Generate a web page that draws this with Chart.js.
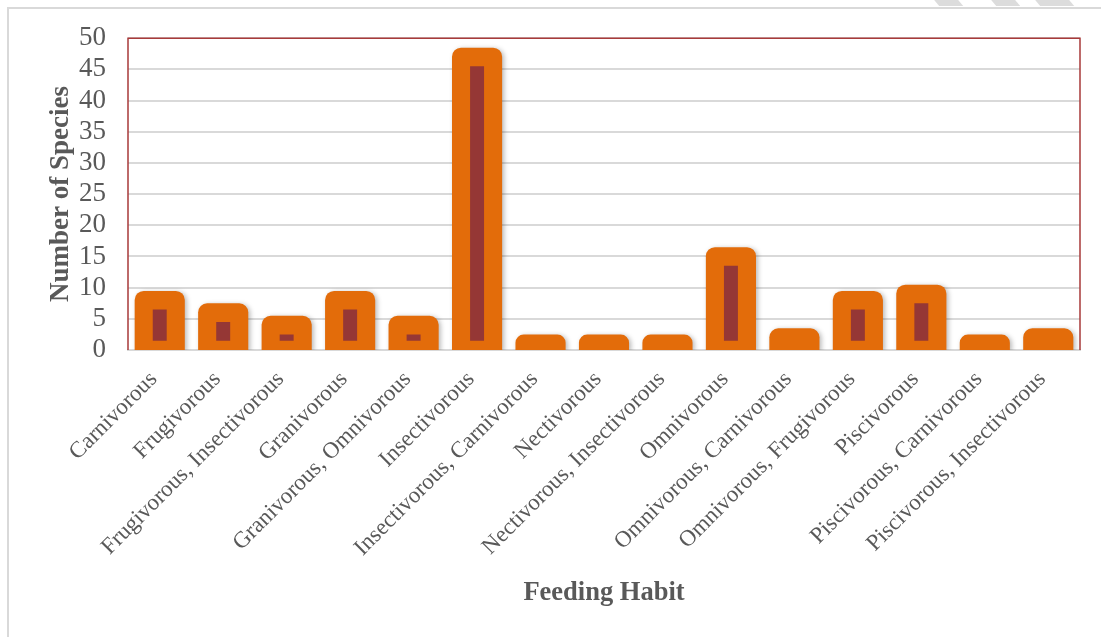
<!DOCTYPE html>
<html>
<head>
<meta charset="utf-8">
<script src="https://cdn.jsdelivr.net/npm/chart.js@4.4.1/dist/chart.umd.min.js"></script>
<style>
  html, body { margin: 0; padding: 0; background: #ffffff; }
  #wrap { position: relative; width: 1101px; height: 637px; overflow: hidden; }
  #frame { position: absolute; left: 7px; top: 7px; right: -10px; bottom: -10px;
           border-left: 2px solid #d9d9d9; border-top: 2px solid #d9d9d9; }
  .wm { position: absolute; top: -4px; height: 10px; background: #dcdcdc; transform: skewX(40deg); }
  canvas { position: absolute; left: 0; top: 0; }
</style>
</head>
<body>
<div id="wrap">
  <div id="frame"></div>
  <div class="wm" style="left:935px;width:24px;"></div>
  <div class="wm" style="left:992px;width:24px;"></div>
  <div class="wm" style="left:1036px;width:34px;"></div>
  <canvas id="c" width="1101" height="637"></canvas>
</div>
<script>
// ---- data ----
const categories = [
  "Carnivorous", "Frugivorous", "Frugivorous, Insectivorous", "Granivorous",
  "Granivorous, Omnivorous", "Insectivorous", "Insectivorous, Carnivorous",
  "Nectivorous", "Nectivorous, Insectivorous", "Omnivorous",
  "Omnivorous, Carnivorous", "Omnivorous, Frugivorous", "Piscivorous",
  "Piscivorous, Carnivorous", "Piscivorous, Insectivorous"
];
const speciesCounts = [9, 7, 5, 9, 5, 48, 2, 2, 2, 16, 3, 9, 10, 2, 3];
// inner (bevel-face) darker bars: low / high as seen in picture
const innerLow  = [1.5, 1.5, 1.5, 1.5, 1.5, 1.5, null, null, null, 1.5, null, 1.5, 1.5, null, null];
const innerHigh = [6.5, 4.5, 2.5, 6.5, 2.5, 45.5, null, null, null, 13.5, null, 6.5, 7.5, null, null];
const yTicks = [0, 5, 10, 15, 20, 25, 30, 35, 40, 45, 50];

const FONT = "'Times New Roman', 'Liberation Serif', serif";
const TXT = "#595959";

const innerData = innerLow.map((lo, i) => (lo === null ? null : [lo, innerHigh[i]]));

const PAD = { left: 45, right: 21, top: 37, bottom: 28 };
const PLOT_LEFT = 128, PLOT_BOTTOM = 350;

const bevelPlugin = {
  id: 'bevel',
  afterDatasetsUpdate(chart) {
    const meta = chart.getDatasetMeta(0);
    meta.data.forEach(el => { el.y -= 3; el.base += 2; });
  },
  beforeDatasetDraw(chart, args) {
    if (args.index === 0) {
      const ctx = chart.ctx;
      ctx.save();
      ctx.shadowColor = 'rgba(0,0,0,0.28)';
      ctx.shadowBlur = 5;
      ctx.shadowOffsetX = 2;
      ctx.shadowOffsetY = 1;
    }
  },
  afterDatasetDraw(chart, args) {
    if (args.index === 0) chart.ctx.restore();
  }
};

const borderPlugin = {
  id: 'plotBorder',
  beforeDatasetsDraw(chart) {
    const a = chart.chartArea, ctx = chart.ctx;
    ctx.save();
    ctx.strokeStyle = '#A83A3A';
    ctx.lineWidth = 1.5;
    ctx.beginPath();
    ctx.moveTo(a.left, a.bottom);
    ctx.lineTo(a.left, a.top);
    ctx.lineTo(a.right, a.top);
    ctx.lineTo(a.right, a.bottom);
    ctx.stroke();
    ctx.restore();
  }
};

new Chart(document.getElementById('c'), {
  type: 'bar',
  data: {
    labels: categories,
    datasets: [
      {
        label: 'Number of Species',
        data: speciesCounts,
        backgroundColor: '#E36C0A',
        borderRadius: { topLeft: 9, topRight: 9, bottomLeft: 0, bottomRight: 0 },
        borderSkipped: false,
        categoryPercentage: 1.0,
        barPercentage: 0.79,
        grouped: false,
        order: 2
      },
      {
        label: 'inner',
        data: innerData,
        backgroundColor: '#953735',
        borderSkipped: false,
        categoryPercentage: 1.0,
        barPercentage: 0.22,
        grouped: false,
        order: 1
      }
    ]
  },
  options: {
    responsive: false,
    animation: false,
    devicePixelRatio: 1,
    layout: { padding: PAD },
    plugins: { legend: { display: false }, tooltip: { enabled: false } },
    scales: {
      x: {
        z: 1,
        offset: true,
        grid: { display: false, drawTicks: false },
        border: { display: true, color: '#d9d9d9', width: 2 },
        ticks: {
          color: TXT,
          font: { family: FONT, size: 23 },
          maxRotation: 45, minRotation: 45,
          autoSkip: false,
          padding: 16,
          labelOffset: -6
        },
        title: {
          display: true, text: 'Feeding Habit', color: TXT,
          font: { family: FONT, size: 26.5, weight: 'bold' },
          padding: { top: 0, bottom: 0 }
        },
        afterFit(scale) { scale.height = 637 - PLOT_BOTTOM - PAD.bottom; }
      },
      y: {
        min: 0, max: 50,
        afterBuildTicks(scale) { scale.ticks = yTicks.map(v => ({ value: v })); },
        grid: { color: '#d9d9d9', lineWidth: 2, drawTicks: false },
        border: { display: false },
        ticks: {
          color: TXT,
          font: { family: FONT, size: 27 },
          padding: 22,
          autoSkip: false
        },
        title: {
          display: true, text: 'Number of Species', color: TXT,
          font: { family: FONT, size: 27, weight: 'bold' },
          padding: { top: 0, bottom: 0 }
        },
        afterFit(scale) { scale.width = PLOT_LEFT - PAD.left; }
      }
    }
  },
  plugins: [bevelPlugin, borderPlugin]
});
</script>
</body>
</html>
